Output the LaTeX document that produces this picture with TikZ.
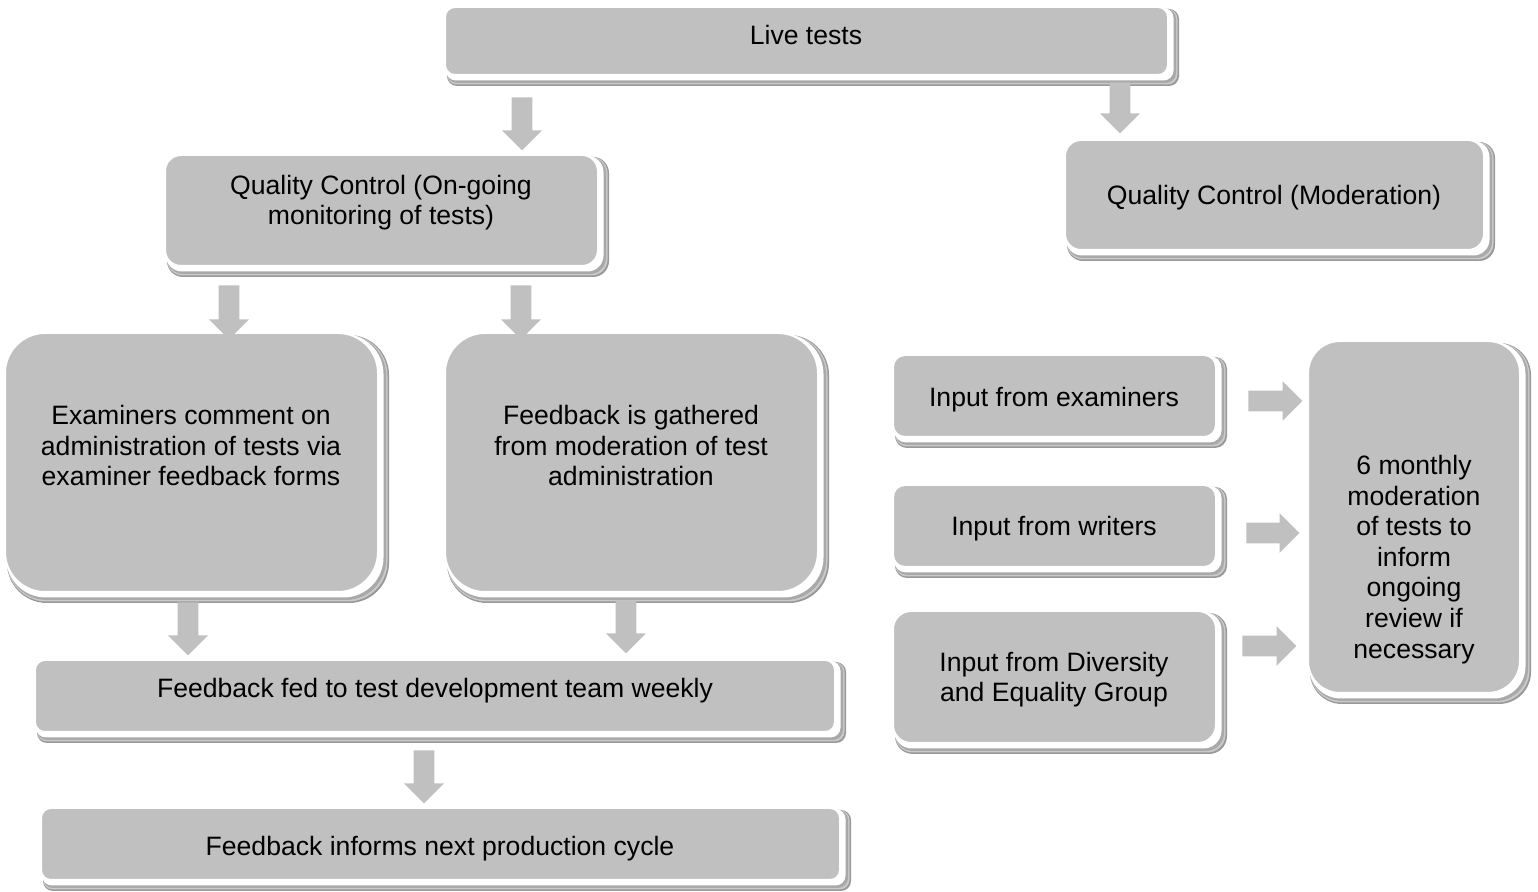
\documentclass[tikz,border=0pt]{standalone}
\usepackage{fontspec}
\setmainfont{Liberation Sans}
\usetikzlibrary{fit,backgrounds,shapes.arrows,calc}
\definecolor{boxfill}{HTML}{C0C0C0}
\definecolor{shA}{HTML}{999999}
\definecolor{shB}{HTML}{CACACA}
\definecolor{shC}{HTML}{A9A9A9}
\begin{document}
\begin{tikzpicture}[x=0.5pt,y=-0.5pt,
  box/.style={fill=boxfill, draw=white, line width=1pt, inner sep=0pt},
  txt/.style={align=center, font=\fontsize{13.3}{15.3}\selectfont, inner sep=0pt, text=black, yshift=-1.25pt},
  darr/.style={single arrow, fill=boxfill, draw=none, inner sep=5pt,
    minimum height=26.5pt, minimum width=19.5pt,
    single arrow head extend=4.75pt, single arrow head indent=0pt,
    shape border rotate=270, anchor=tail},
  rarr/.style={darr, shape border rotate=0}]
\useasboundingbox (0,0) rectangle (1538,892);

% boxes
\node[box, rounded corners=5pt,  fit={(445,7)(1168,75)}]    (live) {};
\node[box, rounded corners=8pt,  fit={(165,155)(598,266)}]  (qc)   {};
\node[box, rounded corners=8pt,  fit={(1065,140)(1484,250)}](mod)  {};
\node[box, rounded corners=20pt, fit={(5,333)(378,592)}]    (exam) {};
\node[box, rounded corners=20pt, fit={(445,333)(818,592)}]  (gath) {};
\node[box, rounded corners=5pt,  fit={(35,660)(835,732)}]   (fed)  {};
\node[box, rounded corners=5pt,  fit={(41,808)(840,880)}]   (inf)  {};
\node[box, rounded corners=6pt,  fit={(893,355)(1216,437)}] (inex) {};
\node[box, rounded corners=6pt,  fit={(893,485)(1216,567)}] (inwr) {};
\node[box, rounded corners=9pt,  fit={(893,611)(1216,743)}] (div)  {};
\node[box, rounded corners=16pt, fit={(1308,341)(1520,693)}](six)  {};

% shadows
\begin{pgfonlayer}{background}
\foreach \n/\r in {live/5,qc/8,mod/8,exam/20,gath/20,fed/5,inf/5,inex/6,inwr/6,div/9,six/16}{
  \fill[shA, rounded corners=\r pt] ($(\n.north west)+(3,3)$) rectangle ($(\n.south east)+(10,10)$);
  \fill[shB, rounded corners=\r pt] ($(\n.north west)+(3,3)$) rectangle ($(\n.south east)+(8.5,8.5)$);
  \fill[shC, rounded corners=\r pt] ($(\n.north west)+(3,3)$) rectangle ($(\n.south east)+(7,7)$);
  \fill[white, rounded corners=\r pt] ($(\n.north west)+(2,2)$) rectangle ($(\n.south east)+(4.5,4.5)$);
}
\end{pgfonlayer}

% texts
\node[txt] (live-t) at (806,32)   {Live tests};
\node[txt] (qc-t)   at (381,200)  {Quality Control (On-going\\monitoring of tests)};
\node[txt] (mod-t)  at (1274,195) {Quality Control (Moderation)};
\node[txt] (exam-t) at (191,443)  {Examiners comment on\\administration of tests via\\examiner feedback forms};
\node[txt] (gath-t) at (631,443)  {Feedback is gathered\\from moderation of test\\administration};
\node[txt] (fed-t)  at (435,688)  {Feedback fed to test development team weekly};
\node[txt] (inf-t)  at (440,846)  {Feedback informs next production cycle};
\node[txt] (inex-t) at (1054,397) {Input from examiners};
\node[txt] (inwr-t) at (1054,526) {Input from writers};
\node[txt] (div-t)  at (1054,677) {Input from Diversity\\and Equality Group};
\node[txt] (six-t)  at (1414,557) {6 monthly\\moderation\\of tests to\\inform\\ongoing\\review if\\necessary};

% block arrows
\node[darr] (a1) at (522,97)  {};
\node[darr, minimum height=25.5pt] (a2) at (1120,82) {};
\node[darr, minimum height=27pt] (a3) at (229,285) {};
\node[darr, minimum height=27pt] (a4) at (521,285) {};
\node[darr] (a5) at (188,602) {};
\node[darr] (a6) at (626,600) {};
\node[darr] (a7) at (424,750) {};
\node[rarr, minimum height=27pt] (a8) at (1248,401) {};
\node[rarr] (a9) at (1246,533) {};
\node[rarr, minimum height=27pt] (a10) at (1242,646) {};
\end{tikzpicture}
\end{document}
